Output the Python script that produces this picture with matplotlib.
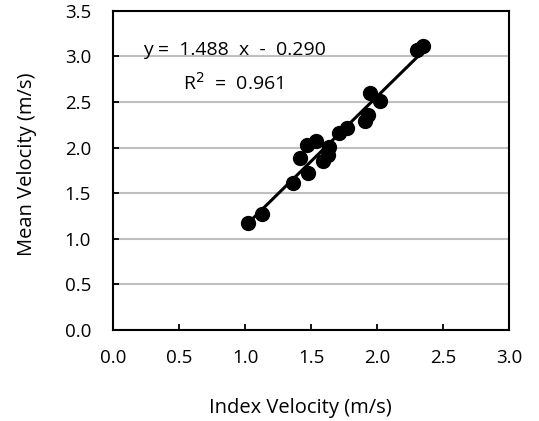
import numpy as np
import matplotlib
matplotlib.use('Agg')
import matplotlib.pyplot as plt

plt.rcParams['font.family'] = ['Open Sans', 'DejaVu Sans']

# index velocity vs mean velocity (m/s)
index_v = [1.02, 1.13, 1.36, 1.48, 1.42, 1.47, 1.54, 1.59, 1.63,
           1.64, 1.71, 1.77, 1.91, 1.93, 1.95, 2.02, 2.30, 2.35]
mean_v = [1.17, 1.27, 1.61, 1.72, 1.88, 2.03, 2.07, 1.85, 1.92,
          2.01, 2.16, 2.21, 2.29, 2.36, 2.60, 2.51, 3.07, 3.11]

eq_text = 'y =  1.488  x  -  0.290'
r2_text = r'R$^2$  =  0.961'
xticks = [0.0, 0.5, 1.0, 1.5, 2.0, 2.5, 3.0]
yticks = [0.0, 0.5, 1.0, 1.5, 2.0, 2.5, 3.0, 3.5]

fig = plt.figure(figsize=(5.39, 4.21), dpi=100)
ax = fig.add_axes([0.210, 0.217, 0.734, 0.757])

x = np.array(index_v)
y = np.array(mean_v)
k, b = np.polyfit(x, y, 1)
xl = np.array([x.min(), x.max()])
ax.plot(xl, k * xl + b, color='black', lw=2.2, zorder=3)
ax.plot(x, y, 'o', color='black', ms=10, zorder=4)

ax.set_xlim(0, 3.0)
ax.set_ylim(0, 3.5)
ax.set_xticks(xticks)
ax.set_yticks(yticks)
ax.set_xticklabels(['%.1f' % t for t in xticks])
ax.set_yticklabels(['%.1f' % t for t in yticks])
ax.yaxis.grid(True, color='#c0c0c0', lw=1.5)
ax.set_axisbelow(True)
for s in ax.spines.values():
    s.set_linewidth(1.5)
ax.tick_params(direction='in', length=4, width=1.3, labelsize=13.5)
ax.tick_params(axis='x', pad=14)
ax.tick_params(axis='y', pad=16)

ax.text(0.225, 3.07, eq_text, fontsize=14, va='center', ha='left')
ax.text(0.53, 2.71, r2_text, fontsize=14, va='center', ha='left')

ax.set_xlabel('Index Velocity (m/s)', fontsize=14.5, labelpad=22)
ax.set_ylabel('Mean Velocity (m/s)', fontsize=14.5, labelpad=20)
ax.xaxis.label.set_x(0.473)
ax.yaxis.label.set_y(0.52)

fig.savefig('out.png', dpi=100)
